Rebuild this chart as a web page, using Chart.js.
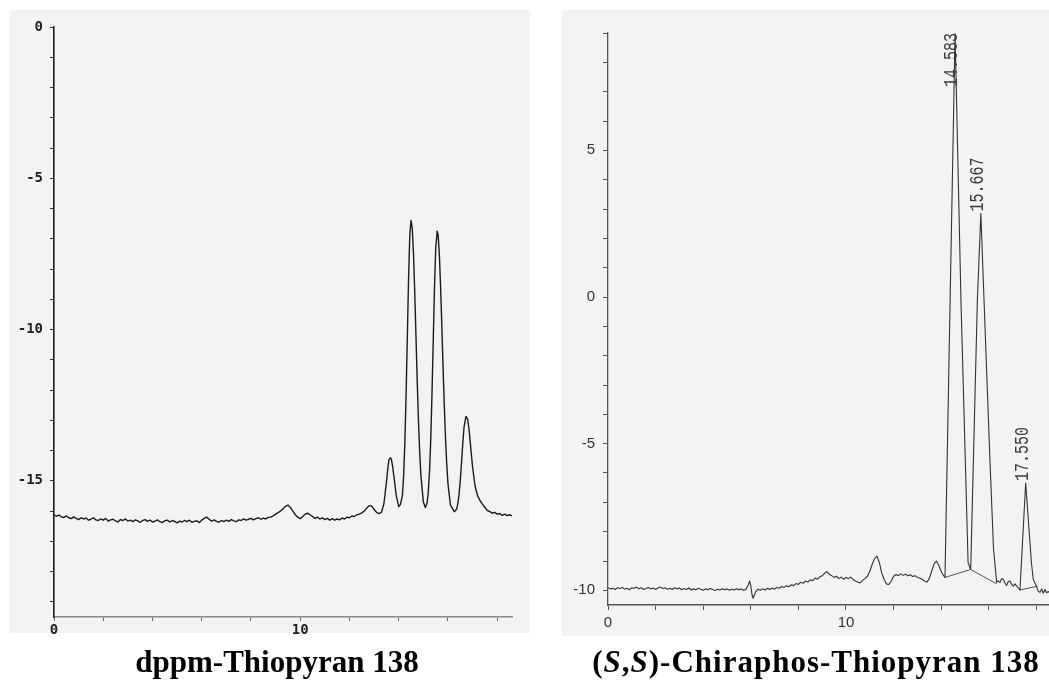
<!DOCTYPE html>
<html>
<head>
<meta charset="utf-8">
<title>Thiopyran 138 chromatograms</title>
<script src="https://cdn.jsdelivr.net/npm/chart.js@4.4.1/dist/chart.umd.min.js"></script>
<style>
  html, body { margin: 0; padding: 0; background: #ffffff; }
  body { width: 1049px; height: 684px; position: relative; overflow: hidden; }
  .paper { position: absolute; background: #f3f3f2; }
  canvas { position: absolute; }
  .caption {
    position: absolute; top: 646px; line-height: 31px; height: 31px;
    font-family: "Liberation Serif", "Times New Roman", serif;
    font-weight: bold; font-size: 31px; color: #000; text-align: center; white-space: nowrap;
  }
</style>
</head>
<body>
<div class="paper" style="left:10px; top:10px; width:520px; height:623px;"></div>
<div class="paper" style="left:562px; top:10px; width:487px; height:626px;"></div>
<canvas id="dppm" width="540" height="645" style="left:0px; top:0px;"></canvas>
<canvas id="chira" width="494" height="645" style="left:555px; top:0px;"></canvas>
<div class="caption" style="left:77px; width:400px;">dppm-Thiopyran 138</div>
<div class="caption" style="left:566px; width:500px; letter-spacing:1px;">(<i>S</i>,<i>S</i>)-Chiraphos-Thiopyran 138</div>

<script>
// dppm-Thiopyran 138 trace: retention time (min) and detector signal
const dppmTime = [
  0,0.1,0.2,0.3,0.4,0.5,0.6,0.7,0.8,0.9,1.0,1.1,1.2,1.3,1.4,1.5,1.6,1.7,1.8,1.9,
  2.0,2.1,2.2,2.3,2.4,2.5,2.6,2.7,2.8,2.9,3.0,3.1,3.2,3.3,3.4,3.5,3.6,3.7,3.8,3.9,
  4.0,4.1,4.2,4.3,4.4,4.5,4.6,4.7,4.8,4.9,5.0,5.1,5.2,5.3,5.4,5.5,5.6,5.7,5.8,5.9,
  6.0,6.1,6.2,6.3,6.4,6.5,6.6,6.7,6.8,6.9,7.0,7.1,7.2,7.3,7.4,7.5,7.6,7.7,7.8,7.9,
  8.0,8.1,8.2,8.3,8.4,8.5,8.6,8.7,8.8,8.9,9.0,9.1,9.2,9.3,9.4,9.5,9.6,9.7,9.8,9.9,
  10.0,10.1,10.2,10.3,10.4,10.5,10.6,10.7,10.8,10.9,11.0,11.1,11.2,11.3,11.4,11.5,11.6,11.7,11.8,11.9,
  12.0,12.1,12.2,12.3,12.4,12.5,12.6,12.7,12.8,12.9,
  13.0,13.1,13.2,13.3,13.4,13.5,13.55,13.6,13.65,13.7,13.75,13.8,13.9,14.0,14.07,14.15,
  14.2,14.25,14.3,14.35,14.4,14.45,14.5,14.55,14.6,14.65,14.7,14.75,14.8,14.85,14.9,15.0,
  15.08,15.15,15.2,15.25,15.3,15.35,15.4,15.45,15.5,15.56,15.6,15.65,15.7,15.75,15.8,15.85,
  15.9,15.95,16.0,16.1,16.26,16.35,16.4,16.45,16.5,16.55,16.6,16.65,16.73,16.8,16.85,16.9,
  16.95,17.0,17.1,17.2,17.3,17.4,17.5,17.6,17.7,17.8,17.9,18.0,18.1,18.2,18.3,18.4,18.5,18.6
];
const dppmSignal = [
  -16.12,-16.17,-16.13,-16.19,-16.21,-16.16,-16.22,-16.25,-16.19,-16.24,
  -16.28,-16.22,-16.26,-16.23,-16.30,-16.27,-16.22,-16.29,-16.31,-16.26,
  -16.30,-16.24,-16.33,-16.29,-16.27,-16.32,-16.36,-16.28,-16.31,-16.26,
  -16.33,-16.30,-16.35,-16.29,-16.32,-16.37,-16.31,-16.28,-16.34,-16.30,
  -16.36,-16.33,-16.29,-16.35,-16.38,-16.32,-16.30,-16.36,-16.31,-16.34,
  -16.39,-16.33,-16.36,-16.31,-16.35,-16.30,-16.37,-16.34,-16.32,-16.38,
  -16.30,-16.24,-16.20,-16.27,-16.33,-16.29,-16.34,-16.37,-16.31,-16.35,
  -16.30,-16.34,-16.28,-16.32,-16.35,-16.29,-16.31,-16.26,-16.30,-16.27,
  -16.24,-16.29,-16.25,-16.22,-16.27,-16.23,-16.26,-16.21,-16.20,
  -16.16,-16.10,-16.05,-16.00,-15.92,-15.84,-15.80,-15.88,-16.00,-16.12,-16.20,
  -16.25,-16.18,-16.10,-16.07,-16.12,-16.18,-16.24,-16.20,-16.26,-16.22,-16.28,-16.24,-16.30,-16.25,-16.30,-16.26,-16.29,-16.23,-16.26,-16.20,
  -16.22,-16.16,-16.18,-16.12,-16.10,-16.06,-16.00,-15.90,-15.82,-15.83,
  -15.95,-16.04,-16.08,-16.04,-15.75,-15.05,-14.64,-14.32,-14.24,-14.28,-14.51,-14.83,-15.49,-15.85,-15.78,-15.48,
  -14.82,-13.71,-12.12,-10.21,-8.30,-6.88,-6.39,-6.65,-7.50,-8.75,-10.21,-11.66,-12.97,-14.03,-14.82,-15.70,
  -15.88,-15.74,-15.37,-14.70,-13.63,-12.15,-10.42,-8.69,-7.34,-6.75,-6.87,-7.53,-8.58,-9.87,-11.23,-12.51,
  -13.60,-14.46,-15.10,-15.80,-16.02,-15.94,-15.76,-15.44,-14.98,-14.40,-13.78,-13.24,-12.87,-12.96,-13.27,-13.68,
  -14.13,-14.55,-15.17,-15.49,-15.65,-15.77,-15.88,-15.98,-16.02,-16.07,-16.04,-16.10,-16.08,-16.14,-16.10,-16.15,-16.12,-16.16
];

// (S,S)-Chiraphos-Thiopyran 138 trace
const chiraTime = [
  0,0.1,0.2,0.3,0.4,0.5,0.6,0.7,0.8,0.9,1.0,1.1,1.2,1.3,1.4,1.5,1.6,1.7,1.8,1.9,
  2.0,2.1,2.2,2.3,2.4,2.5,2.6,2.7,2.8,2.9,3.0,3.1,3.2,3.3,3.4,3.5,3.6,3.7,3.8,3.9,
  4.0,4.1,4.2,4.3,4.4,4.5,4.6,4.7,4.8,4.9,5.0,5.1,5.2,5.3,5.4,5.5,5.6,5.7,5.8,5.9,
  5.95,6.0,6.05,6.1,6.2,6.3,6.4,6.5,6.6,6.7,6.8,6.9,7.0,7.1,7.2,7.3,7.4,7.5,7.6,7.7,
  7.8,7.9,8.0,8.1,8.2,8.3,8.4,8.5,8.6,8.7,8.8,8.9,9.0,9.1,9.2,9.3,9.4,9.5,9.6,9.7,
  9.8,9.9,10.0,10.1,10.2,10.3,10.4,10.5,10.6,10.7,10.8,10.9,11.0,11.1,11.2,11.3,11.4,11.5,11.6,11.7,
  11.8,11.9,12.0,12.1,12.2,12.3,12.4,12.5,12.6,12.7,12.8,12.9,13.0,13.1,13.2,13.3,13.4,13.5,13.6,13.7,
  13.8,13.9,14.0,14.1,14.16,14.583,14.83,15.13,15.24,15.52,15.667,15.8,16.05,16.2,16.33,
  16.4,16.47,16.54,16.61,16.68,16.75,16.82,16.89,16.96,17.03,17.1,17.17,17.24,17.31,17.55,
  17.79,17.87,18.0,18.07,18.15,18.22,18.29,18.36,18.43,18.5,18.53
];
const chiraSignal = [
  -9.90,-9.95,-9.93,-9.97,-9.91,-9.94,-9.90,-9.96,-9.93,-9.98,-9.91,-9.93,-9.89,-9.95,-9.91,-9.97,-9.94,-9.90,-9.95,-9.92,
  -9.97,-9.92,-9.89,-9.94,-9.91,-9.96,-9.93,-9.97,-9.91,-9.95,-9.92,-9.98,-9.94,-9.97,-9.92,-9.99,-9.95,-9.98,-9.93,-9.96,
  -10.00,-9.95,-9.98,-9.94,-9.97,-10.01,-9.96,-9.99,-9.95,-9.98,-9.95,-10.00,-9.96,-9.99,-9.95,-9.98,-9.95,-10.00,-9.96,-9.80,
  -9.68,-9.85,-10.15,-10.27,-10.05,-9.96,-10.00,-9.95,-9.99,-9.93,-9.97,-9.92,-9.96,-9.90,-9.93,-9.87,-9.90,-9.84,-9.88,-9.81,
  -9.84,-9.77,-9.80,-9.72,-9.76,-9.68,-9.72,-9.64,-9.67,-9.58,-9.62,-9.54,-9.50,-9.42,-9.36,-9.45,-9.50,-9.56,-9.52,-9.60,
  -9.55,-9.62,-9.56,-9.60,-9.55,-9.63,-9.68,-9.72,-9.75,-9.66,-9.60,-9.52,-9.35,-9.12,-8.92,-8.83,-9.05,-9.40,-9.62,-9.78,
  -9.80,-9.68,-9.52,-9.46,-9.50,-9.44,-9.49,-9.45,-9.50,-9.47,-9.53,-9.50,-9.56,-9.58,-9.62,-9.68,-9.72,-9.60,-9.35,-9.10,
  -9.00,-9.15,-9.36,-9.50,-9.56,8.98,-0.10,-9.05,-9.29,-0.10,2.85,-0.10,-5.60,-8.60,-9.73,
  -9.68,-9.73,-9.60,-9.63,-9.75,-9.83,-9.70,-9.68,-9.80,-9.86,-9.78,-9.85,-9.92,-9.99,-6.34,
  -9.05,-9.63,-9.85,-10.02,-10.07,-9.95,-10.10,-9.97,-10.08,-10.04,-10.07
];
// integrator baseline segments drawn under the resolved peaks (null = pen lift)
const chiraBaseTime   = [14.16, 15.24, 16.33, 16.33, 17.31, 18.05];
const chiraBaseSignal = [-9.56, -9.29, -9.78, null, -9.99, -9.86];

// retention times printed by the integrator
const peakTimes = [14.583, 15.667, 17.550];

// axis ticks with printed labels
const dppmYLabels = [0, -5, -10, -15];
const dppmXLabels = [0, 10];
const chiraYLabels = [5, 0, -5, -10];
const chiraXLabels = [0, 10];

function points(xs, ys) {
  return xs.map((x, i) => ({ x: x, y: ys[i] }));
}
function labelIf(list) {
  return v => list.some(l => Math.abs(l - v) < 1e-6) ? String(Math.round(v)) : '';
}

const peakLabelPlugin = {
  id: 'peakLabels',
  afterDatasetsDraw(chart) {
    const { ctx, chartArea, scales } = chart;
    ctx.save();
    ctx.font = '15px "Liberation Mono", "DejaVu Sans Mono", monospace';
    ctx.fillStyle = '#3a3a3a';
    ctx.textAlign = 'left';
    ctx.textBaseline = 'alphabetic';
    peakTimes.forEach(t => {
      const label = t.toFixed(3);
      const w = ctx.measureText(label).width;
      const idx = chiraTime.indexOf(t);
      const px = scales.x.getPixelForValue(t);
      const py = scales.y.getPixelForValue(chiraSignal[idx]);
      const bottom = Math.max(py - 2, chartArea.top + w);
      ctx.save();
      ctx.translate(px + 2, bottom);
      ctx.rotate(-Math.PI / 2);
      ctx.scale(1, 1.3);
      ctx.fillText(label, 0, 0);
      ctx.restore();
    });
    ctx.restore();
  }
};

const common = {
  responsive: false,
  animation: false,
  devicePixelRatio: 1,
  plugins: { legend: { display: false }, tooltip: { enabled: false } },
  elements: { point: { radius: 0 }, line: { tension: 0, borderJoinStyle: 'round' } }
};

new Chart(document.getElementById('dppm'), {
  type: 'line',
  data: {
    datasets: [{
      data: points(dppmTime, dppmSignal),
      borderColor: '#1c1c1c',
      borderWidth: 1.4,
      fill: false
    }]
  },
  options: Object.assign({}, common, {
    layout: { padding: { top: 27, right: 28, left: 0, bottom: 0 } },
    scales: {
      x: {
        type: 'linear', min: 0, max: 18.6,
        border: { color: '#8a8a8a', width: 1.6 },
        grid: { drawOnChartArea: false, drawTicks: true, tickLength: 4, color: '#666' },
        ticks: {
          stepSize: 2, includeBounds: false, autoSkip: false, maxRotation: 0, maxTicksLimit: 100,
          padding: 1, color: '#222',
          font: { family: '"DejaVu Sans Mono", monospace', size: 14, weight: 'bold' },
          callback: labelIf(dppmXLabels)
        },
        afterFit(s) { s.height = 28; }
      },
      y: {
        type: 'linear', min: -19.5, max: 0,
        border: { color: '#1a1a1a', width: 1.6 },
        grid: { drawOnChartArea: false, drawTicks: true, tickLength: 4, color: '#333' },
        ticks: {
          stepSize: 1, includeBounds: false, autoSkip: false, maxTicksLimit: 100,
          padding: 7, color: '#222',
          font: { family: '"DejaVu Sans Mono", monospace', size: 14, weight: 'bold' },
          callback: labelIf(dppmYLabels)
        },
        afterFit(s) { s.width = 54; }
      }
    }
  })
});

new Chart(document.getElementById('chira'), {
  type: 'line',
  data: {
    datasets: [{
      data: points(chiraTime, chiraSignal),
      borderColor: '#333333',
      borderWidth: 1.1,
      fill: false
    }, {
      data: points(chiraBaseTime, chiraBaseSignal),
      borderColor: '#444444',
      borderWidth: 0.9,
      spanGaps: false,
      fill: false
    }]
  },
  options: Object.assign({}, common, {
    layout: { padding: { top: 33, right: 0, left: 0, bottom: 0 } },
    scales: {
      x: {
        type: 'linear', min: 0, max: 18.53,
        border: { color: '#555', width: 1.6 },
        grid: { drawOnChartArea: false, drawTicks: true, tickLength: 5, color: '#555' },
        ticks: {
          stepSize: 2, includeBounds: false, autoSkip: false, maxRotation: 0, maxTicksLimit: 100,
          padding: 4, color: '#333',
          font: { family: '"Liberation Sans", Arial, sans-serif', size: 15 },
          callback: labelIf(chiraXLabels)
        },
        afterFit(s) { s.height = 40; }
      },
      y: {
        type: 'linear', min: -10.5, max: 9,
        border: { color: '#555', width: 1.3 },
        grid: { drawOnChartArea: false, drawTicks: true, tickLength: 5, color: '#555' },
        ticks: {
          stepSize: 1, includeBounds: false, autoSkip: false, maxTicksLimit: 100,
          padding: 8, color: '#333',
          font: { family: '"Liberation Sans", Arial, sans-serif', size: 15 },
          callback: labelIf(chiraYLabels)
        },
        afterFit(s) { s.width = 53; }
      }
    }
  }),
  plugins: [peakLabelPlugin]
});
</script>
</body>
</html>
